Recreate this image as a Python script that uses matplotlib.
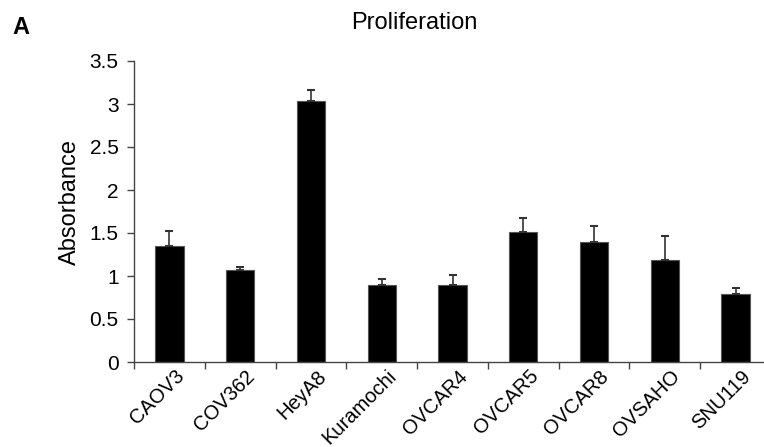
import matplotlib
matplotlib.use("Agg")
import matplotlib.pyplot as plt
from matplotlib.ticker import FixedLocator, NullFormatter
import numpy as np

plt.rcParams["font.family"] = ["Liberation Sans", "DejaVu Sans"]

cell_lines = ["CAOV3", "COV362", "HeyA8", "Kuramochi", "OVCAR4",
              "OVCAR5", "OVCAR8", "OVSAHO", "SNU119"]
absorbance = [1.35, 1.07, 3.04, 0.90, 0.90, 1.51, 1.39, 1.19, 0.79]
error_up = [0.17, 0.04, 0.12, 0.07, 0.11, 0.16, 0.19, 0.27, 0.07]
y_ticks = [0, 0.5, 1, 1.5, 2, 2.5, 3, 3.5]
y_tick_labels = ["0", "0.5", "1", "1.5", "2", "2.5", "3", "3.5"]

fig = plt.figure(figsize=(7.64, 4.47), dpi=100)
# axis runs slightly past the right edge, as in the cropped original
ax = fig.add_axes([134 / 764, 85 / 447, 637 / 764, 301 / 447])

x = np.arange(len(cell_lines))
ax.bar(x, absorbance, width=0.4, color="black", edgecolor="#555555",
       linewidth=0.8, zorder=2)
ax.errorbar(x, absorbance, yerr=[np.zeros(len(x)), error_up], fmt="none",
            ecolor="#333333", elinewidth=1.2, capsize=3, capthick=1.5, zorder=3)

ax.set_xlim(-0.5, len(cell_lines) - 0.5)
ax.set_ylim(0, 3.5)
ax.set_yticks(y_ticks)
ax.set_yticklabels(y_tick_labels, fontsize=15)

# ticks sit at the category boundaries; rotated labels end just right of centre
ax.xaxis.set_major_locator(FixedLocator(np.arange(-0.5, len(cell_lines), 1.0)))
ax.xaxis.set_major_formatter(NullFormatter())
ax.xaxis.set_minor_locator(FixedLocator(x + 0.17))
ax.set_xticklabels(cell_lines, minor=True, rotation=45, ha="right",
                   va="center", rotation_mode="anchor", fontsize=14.5)
ax.tick_params(axis="x", which="minor", length=0, pad=8)
ax.tick_params(axis="x", which="major", length=5, width=1, color="#444444",
               direction="out")
ax.tick_params(axis="y", length=5, width=1, color="#444444", direction="out",
               pad=6)

for side in ["top", "right"]:
    ax.spines[side].set_visible(False)
for side in ["left", "bottom"]:
    ax.spines[side].set_color("#444444")
    ax.spines[side].set_linewidth(1)

ax.set_ylabel("Absorbance", fontsize=17)
ax.yaxis.set_label_coords(-0.083, 0.533)
fig.text(414 / 764, 1 - 23 / 447, "Proliferation", ha="center", va="center",
         fontsize=17)
fig.text(12 / 764, 1 - 28 / 447, "A", ha="left", va="center",
         fontsize=17, fontweight="bold")

fig.savefig("out.png", dpi=100)
